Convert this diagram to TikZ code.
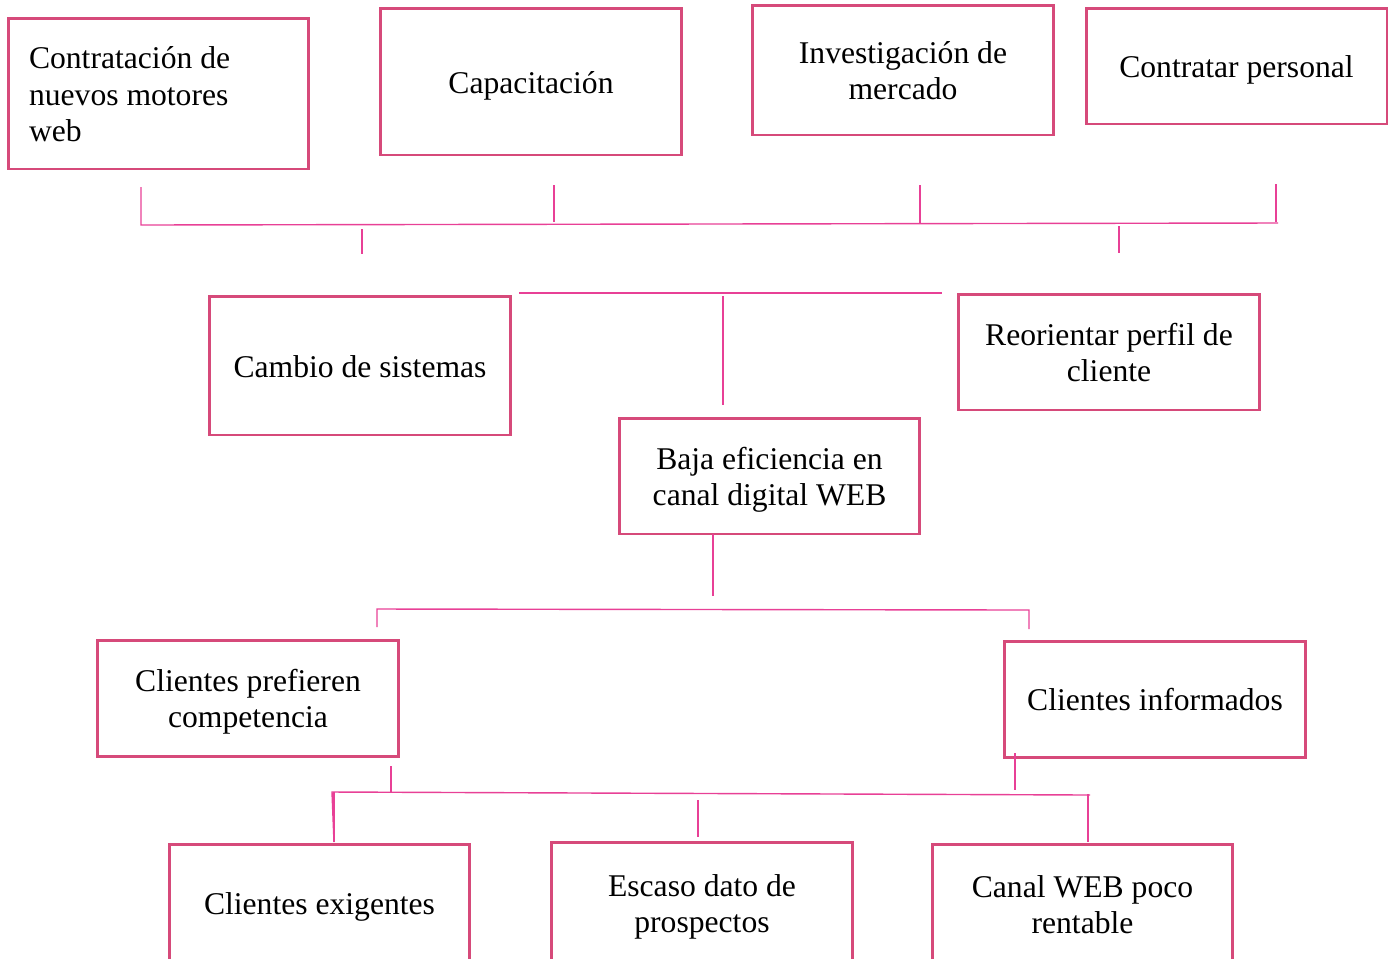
\documentclass[tikz,border=0pt]{standalone}
\usepackage{fontspec}
\setmainfont{Liberation Serif}
\usetikzlibrary{positioning}
\definecolor{borde}{RGB}{214,74,122}
\definecolor{rosa}{RGB}{232,64,150}

\begin{document}
\begin{tikzpicture}[x=0.02cm,y=-0.02cm,
  caja/.style={draw=borde,line width=1.7pt,minimum width=6.02cm,text width=6.02cm,align=flush center,inner sep=0pt,font=\fontsize{18}{20.8}\selectfont,
    execute at begin node={\rule{0pt}{0.99em}},execute at end node={\rule[-0.25em]{0pt}{0pt}}},
  linea/.style={draw=rosa,line width=0.8pt}]
\useasboundingbox (0,0) rectangle (1388,958);
\clip (0,0) rectangle (1388,958);
\node [caja,minimum height=3.02cm,align=flush left,text width=5.18cm,inner xsep=0.42cm] (motores) at (158.5,93.5) {Contrataci\'on de\\nuevos motores\\web};
\node [caja,minimum height=2.94cm] (capac) at (531,81.5) {Capacitaci\'on};
\node [caja,minimum height=2.6cm] (invest) at (903,70) {Investigaci\'on de\\mercado};
\node [caja,minimum height=2.32cm] (personal) at (1236.5,66) {Contratar personal};
\node [caja,minimum height=2.78cm] (sistemas) at (360,365.5) {Cambio de sistemas};
\node [caja,minimum height=2.32cm] (perfil) at (1109,352) {Reorientar perfil de\\cliente};
\node [caja,minimum height=2.32cm] (baja) at (769.5,476) {Baja eficiencia en\\canal digital WEB};
\node [caja,minimum height=2.32cm] (prefieren) at (248,698) {Clientes prefieren\\competencia};
\node [caja,minimum height=2.32cm] (informados) at (1155,699) {Clientes informados};
\node [caja,minimum height=2.36cm] (exigentes) at (319.5,903) {Clientes exigentes};
\node [caja,minimum height=2.44cm] (escaso) at (702,903) {Escaso dato de\\prospectos};
\node [caja,minimum height=2.4cm] (rentable) at (1082.5,904) {Canal WEB poco\\rentable};

\coordinate (m1) at (141,187); \coordinate (m2) at (141,225);
\coordinate (c1) at (554,185); \coordinate (c2) at (554,222);
\coordinate (i1) at (920,185); \coordinate (i2) at (920,223);
\coordinate (p1) at (1276,184); \coordinate (p2) at (1278,223);
\coordinate (s1) at (362,229); \coordinate (s2) at (362,254);
\coordinate (r1) at (1119,226); \coordinate (r2) at (1119,253);
\coordinate (h1) at (519,293); \coordinate (h2) at (942,293);
\coordinate (v1) at (723,296); \coordinate (v2) at (723,405);
\coordinate (b1) at (713,534); \coordinate (b2) at (713,596);
\coordinate (k1) at (377,627); \coordinate (k2) at (377,609);
\coordinate (k3) at (1029,610); \coordinate (k4) at (1029,629);
\coordinate (f1) at (391,766); \coordinate (f2) at (391,792);
\coordinate (n1) at (1015,753); \coordinate (n2) at (1015,790);
\coordinate (e1) at (334,842); \coordinate (e2) at (332,792);
\coordinate (d1) at (698,800); \coordinate (d2) at (698,837);
\coordinate (w1) at (1090,795); \coordinate (w2) at (1088,842);

\draw [linea] (m1) -- (m2) -- (p2);
\draw [linea] (c1) -- (c2);
\draw [linea] (i1) -- (i2);
\draw [linea] (p1) -- (1276,222);
\draw [linea] (s1) -- (s2);
\draw [linea] (r1) -- (r2);
\draw [linea] (h1) -- (h2);
\draw [linea] (v1) -- (v2);
\draw [linea] (b1) -- (b2);
\draw [linea] (k1) -- (k2) -- (k3) -- (k4);
\draw [linea] (f1) -- (f2);
\draw [linea] (n1) -- (n2);
\draw [linea] (e1) -- (e2) -- (w1);
\draw [linea] (334,792) -- (e1);
\draw [linea] (d1) -- (d2);
\draw [linea] (1088,794) -- (w2);
\end{tikzpicture}
\end{document}
